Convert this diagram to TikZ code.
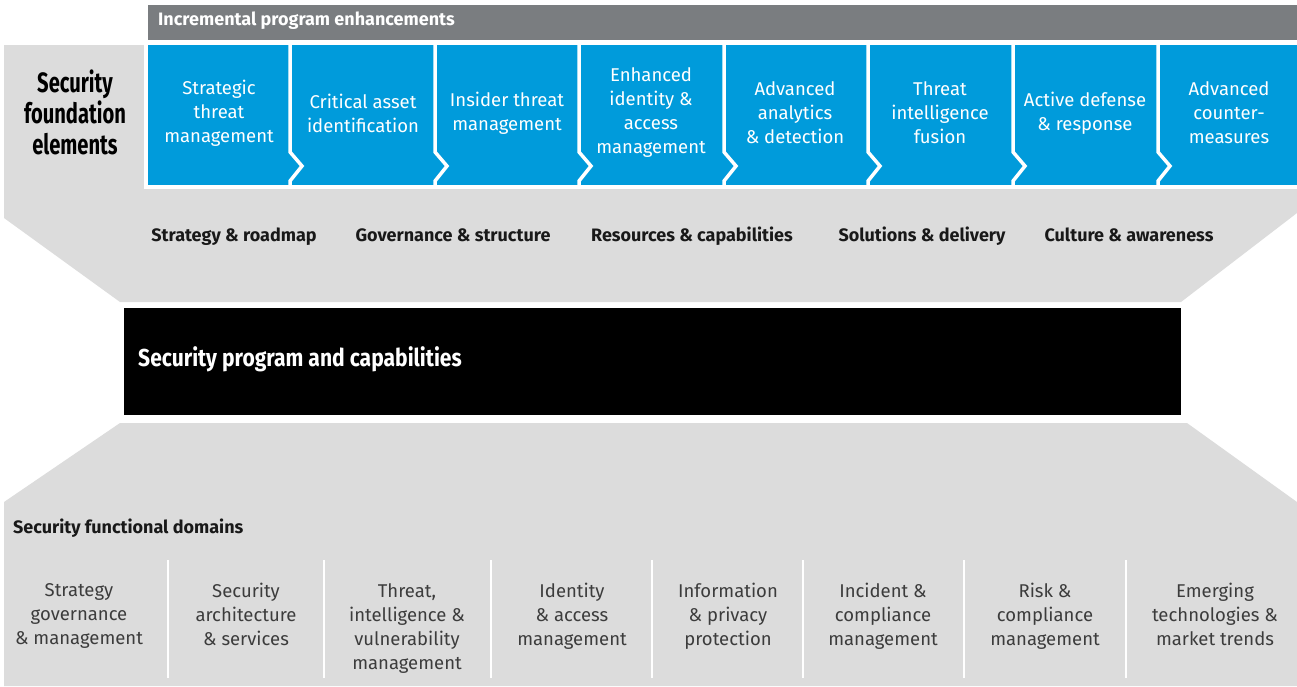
\documentclass[tikz,border=0pt]{standalone}
\usepackage{fontspec}
\setmainfont{Fira Sans}
\newfontfamily\condfont{Fira Sans}[FakeStretch=0.86]
\newfontfamily\narrowfont{Fira Sans}[FakeStretch=0.72]
\definecolor{hdrgray}{RGB}{122,125,128}
\definecolor{panelgray}{RGB}{220,220,220}
\definecolor{secblue}{RGB}{0,155,219}
\definecolor{domgray}{RGB}{60,60,60}
\begin{document}
\begin{tikzpicture}[x=1pt,y=-1pt,
    enhtext/.style={align=center,text=white,font=\fontsize{18.5}{24}\selectfont,inner sep=0pt},
    elemtext/.style={font=\bfseries\fontsize{18}{20}\selectfont,text=black!90,inner sep=0pt},
    domtext/.style={align=center,text=domgray,font=\fontsize{18.5}{24}\selectfont,inner sep=0pt,anchor=north},
    divider/.style={white,line width=3.5pt,line join=miter},
    separator/.style={white,line width=2.5pt}]
                \useasboundingbox (0,0) rectangle (1297,686);

                \fill[panelgray] (4,45) -- (1297,45) -- (1297,213) -- (1181,302) -- (120,302) -- (4,218) -- cycle;
                \fill[panelgray] (120,423) -- (1187,423) -- (1297,502) -- (1297,686) -- (4,686) -- (4,502) -- cycle;
                \fill[white] (144,41) rectangle (1297,189);
                \fill[secblue] (148,45) rectangle (1297,185);
                \fill[hdrgray] (148,5) rectangle (1297,40);
                \fill[black] (124,308) rectangle (1181,415);

                \node[anchor=west,text=white,font=\bfseries\fontsize{18}{18}\selectfont,inner sep=0pt] (incr) at (158,21) {Incremental program enhancements};

                \draw[divider] (290,45) -- (290,152) -- (302,166) -- (290,181) -- (290,185);
                \draw[divider] (435,45) -- (435,152) -- (447,166) -- (435,181) -- (435,185);
                \draw[divider] (579,45) -- (579,152) -- (591,166) -- (579,181) -- (579,185);
                \draw[divider] (724,45) -- (724,152) -- (736,166) -- (724,181) -- (724,185);
                \draw[divider] (868,45) -- (868,152) -- (880,166) -- (868,181) -- (868,185);
                \draw[divider] (1013,45) -- (1013,152) -- (1025,166) -- (1013,181) -- (1013,185);
                \draw[divider] (1158,45) -- (1158,152) -- (1170,166) -- (1158,181) -- (1158,185);

                \node[enhtext] (stm) at (219,113) {Strategic\\threat\\management};
                \node[enhtext] (cai) at (363,113) {Critical asset\\identification};
                \node[enhtext] (itm) at (507,113) {Insider threat\\management};
                \node[enhtext] (iam) at (651,113) {Enhanced\\identity \&\\access\\management};
                \node[enhtext] (aad) at (795,113) {Advanced\\analytics\\\& detection};
                \node[enhtext] (tif) at (940,113) {Threat\\intelligence\\fusion};
                \node[enhtext] (adr) at (1085,113) {Active defense\\\& response};
                \node[enhtext] (acm) at (1229,113) {Advanced\\counter-\\measures};

                \node[align=center,font=\narrowfont\bfseries\fontsize{28}{31}\selectfont,inner sep=0pt] (sfe) at (75,112) {Security\\foundation\\elements};

                \node[elemtext,anchor=base] (srm) at (234,241) {Strategy \& roadmap};
                \node[elemtext,anchor=base] (gas) at (453,241) {Governance \& structure};
                \node[elemtext,anchor=base] (rac) at (692,241) {Resources \& capabilities};
                \node[elemtext,anchor=base] (sad) at (922,241) {Solutions \& delivery};
                \node[elemtext,anchor=base] (caw) at (1129,241) {Culture \& awareness};

                \node[anchor=west,text=white,font=\condfont\bfseries\fontsize{24.5}{24.5}\selectfont,inner sep=0pt] (spc) at (138,359) {Security program and capabilities};

                \node[elemtext,anchor=base west] (sfd) at (13,533) {Security functional domains};

                \draw[separator] (168,560) -- (168,678);
                \draw[separator] (324,560) -- (324,678);
                \draw[separator] (491,560) -- (491,678);
                \draw[separator] (652,560) -- (652,678);
                \draw[separator] (803,560) -- (803,678);
                \draw[separator] (964,560) -- (964,678);
                \draw[separator] (1126,560) -- (1126,678);

                \node[domtext] (sgm) at (79,583) {Strategy\\governance\\\& management};
                \node[domtext] (sas) at (246,583) {Security\\architecture\\\& services};
                \node[domtext] (tiv) at (407,583) {Threat,\\intelligence \&\\vulnerability\\management};
                \node[domtext] (idm) at (572,583) {Identity\\\& access\\management};
                \node[domtext] (ipp) at (728,583) {Information\\\& privacy\\protection};
                \node[domtext] (icm) at (883,583) {Incident \&\\compliance\\management};
                \node[domtext] (rcm) at (1045,583) {Risk \&\\compliance\\management};
                \node[domtext] (etm) at (1215,583) {Emerging\\technologies \&\\market trends};
            \end{tikzpicture}
\end{document}
